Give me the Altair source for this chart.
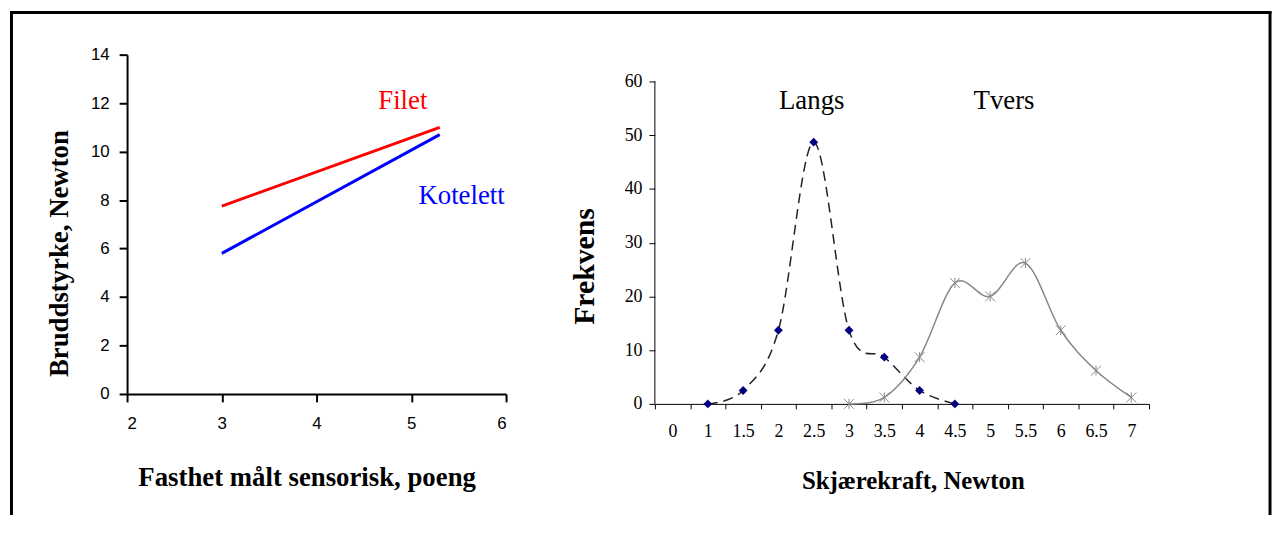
import altair as alt
import pandas as pd

# ---------- Left panel data ----------
fasthet_x = [3, 5.3]
filet_y = [7.75, 11.0]
kotelett_y = [5.8, 10.7]

# ---------- Right panel data ----------
categories = ["0", "1", "1.5", "2", "2.5", "3", "3.5", "4", "4.5", "5", "5.5", "6", "6.5", "7"]
langs_x = ["1", "1.5", "2", "2.5", "3", "3.5", "4", "4.5"]
langs_y = [0, 2.5, 13.7, 48.7, 13.7, 8.7, 2.5, 0]
tvers_x = ["3", "3.5", "4", "4.5", "5", "5.5", "6", "6.5", "7"]
tvers_y = [0, 1.2, 8.7, 22.5, 20, 26.2, 13.7, 6.2, 1.2]

left_df = pd.DataFrame({
    "x": fasthet_x + fasthet_x,
    "y": filet_y + kotelett_y,
    "serie": ["Filet"] * len(fasthet_x) + ["Kotelett"] * len(fasthet_x),
})
langs_df = pd.DataFrame({"kraft": langs_x, "freq": langs_y})
tvers_df = pd.DataFrame({"kraft": tvers_x, "freq": tvers_y})

SERIF = "Liberation Serif"
SANS = "Liberation Sans"

LW, LH = 382, 342
RW, RH = 498, 352
R_TOP = 60 * RH / 325.0  # y domain max so 60 sits 27px below panel top

# ---------- Left panel ----------
lx = alt.X("x:Q", scale=alt.Scale(domain=[2, 6], nice=False, zero=False),
           axis=alt.Axis(values=[2, 3, 4, 5, 6], format="d", grid=False, title="Fasthet målt sensorisk, poeng",
                         tickSize=8, tickWidth=2, domainWidth=2, domainColor="black", tickColor="black",
                         labelFont=SANS, labelFontSize=17, labelColor="black", labelPadding=14,
                         titleFont=SERIF, titleFontSize=27, titleFontWeight="bold", titleColor="black",
                         titleX=181, titleY=84, titleBaseline="middle"))
ly = alt.Y("y:Q", scale=alt.Scale(domain=[0, 14], nice=False),
           axis=alt.Axis(values=[0, 2, 4, 6, 8, 10, 12, 14], format="d", grid=False, title="Bruddstyrke, Newton",
                         tickSize=8, tickWidth=2, domainWidth=2, domainColor="black", tickColor="black",
                         labelFont=SANS, labelFontSize=17, labelColor="black", labelPadding=10,
                         titleFont=SERIF, titleFontSize=27, titleFontWeight="bold", titleColor="black",
                         titleX=-68, titleY=200, titleBaseline="middle"))

left_lines = alt.Chart(left_df).mark_line(strokeWidth=3).encode(
    x=lx, y=ly,
    color=alt.Color("serie:N", scale=alt.Scale(domain=["Filet", "Kotelett"], range=["#ff0000", "#0000ff"]),
                    legend=None),
)

lab_df = pd.DataFrame({"x": [4.91, 5.53], "y": [12.1, 8.18], "t": ["Filet", "Kotelett"]})
left_text = alt.Chart(lab_df).mark_text(font=SERIF, fontSize=27, baseline="middle").encode(
    x="x:Q", y="y:Q", text="t:N",
    color=alt.Color("t:N", scale=alt.Scale(domain=["Filet", "Kotelett"], range=["#ff0000", "#0000ff"]),
                    legend=None),
)

one = pd.DataFrame({"a": [0]})
frame_l = alt.Chart(one).mark_rule(color="black", strokeWidth=3).encode(
    x=alt.value(-116.5), y=alt.value(-43.5), y2=alt.value(464))
frame_t = alt.Chart(one).mark_rule(color="black", strokeWidth=3).encode(
    x=alt.value(-118), x2=alt.value(1153.5), y=alt.value(-42.5))
frame_r = alt.Chart(one).mark_rule(color="black", strokeWidth=3).encode(
    x=alt.value(1152), y=alt.value(-43.5), y2=alt.value(464))

left = alt.layer(left_lines, left_text, frame_l, frame_t, frame_r).properties(width=LW, height=LH)

# ---------- Right panel ----------
rx = alt.X("kraft:N", sort=categories,
           scale=alt.Scale(type="band", domain=categories, paddingInner=0, paddingOuter=0),
           axis=alt.Axis(tickBand="extent", grid=False, labelAngle=0, title="Skjærekraft, Newton",
                         tickSize=5, domainColor="black", tickColor="black",
                         labelFont=SERIF, labelFontSize=18, labelColor="black", labelPadding=14,
                         titleFont=SERIF, titleFontSize=25, titleFontWeight="bold", titleColor="black",
                         titleX=260, titleY=77, titleBaseline="middle"))
ry = alt.Y("freq:Q", scale=alt.Scale(domain=[0, R_TOP], nice=False),
           axis=alt.Axis(values=[0, 10, 20, 30, 40, 50, 60], grid=False, domain=False, title="Frekvens",
                         tickSize=6, tickColor="black",
                         labelFont=SERIF, labelFontSize=18, labelColor="black", labelPadding=7,
                         titleFont=SERIF, titleFontSize=30, titleFontWeight="bold", titleColor="black",
                         titleX=-71, titleY=213, titleBaseline="middle"))

langs_line = alt.Chart(langs_df).mark_line(interpolate="cardinal", strokeDash=[10, 6], color="#222222",
                                           strokeWidth=1.5).encode(x=rx, y=ry)
langs_pts = alt.Chart(langs_df).mark_point(shape="diamond", filled=True, color="#000080", size=80,
                                           opacity=1).encode(x="kraft:N", y="freq:Q")
tvers_line = alt.Chart(tvers_df).mark_line(interpolate="cardinal", color="#888888",
                                           strokeWidth=1.5).encode(x="kraft:N", y="freq:Q")
tvers_pts = alt.Chart(tvers_df).mark_point(shape="M-1,-1L1,1M1,-1L-1,1M0,-1L0,1", filled=False,
                                           color="#888888", size=100, strokeWidth=1,
                                           opacity=1).encode(x="kraft:N", y="freq:Q")
y_line = alt.Chart(one).mark_rule(color="black", strokeWidth=1).encode(
    x=alt.value(0), y=alt.datum(0), y2=alt.datum(60))

langs_lab = alt.Chart(pd.DataFrame({"kraft": ["2.5"], "freq": [56.3], "t": ["Langs"]})).mark_text(
    font=SERIF, fontSize=27, baseline="middle", color="black", dx=-2).encode(x="kraft:N", y="freq:Q", text="t:N")
tvers_lab = alt.Chart(pd.DataFrame({"kraft": ["5"], "freq": [56.3], "t": ["Tvers"]})).mark_text(
    font=SERIF, fontSize=27, baseline="middle", color="black", dx=14).encode(x="kraft:N", y="freq:Q", text="t:N")

right = alt.layer(langs_line, tvers_line, langs_pts, tvers_pts, y_line, langs_lab, tvers_lab).properties(
    width=RW, height=RH)

chart = alt.hconcat(left, right, spacing=150, bounds="flush").properties(
    padding=0, background="white"
).configure_view(stroke=None)

chart.save("out.html", embed_options={"renderer": "svg", "actions": False})
